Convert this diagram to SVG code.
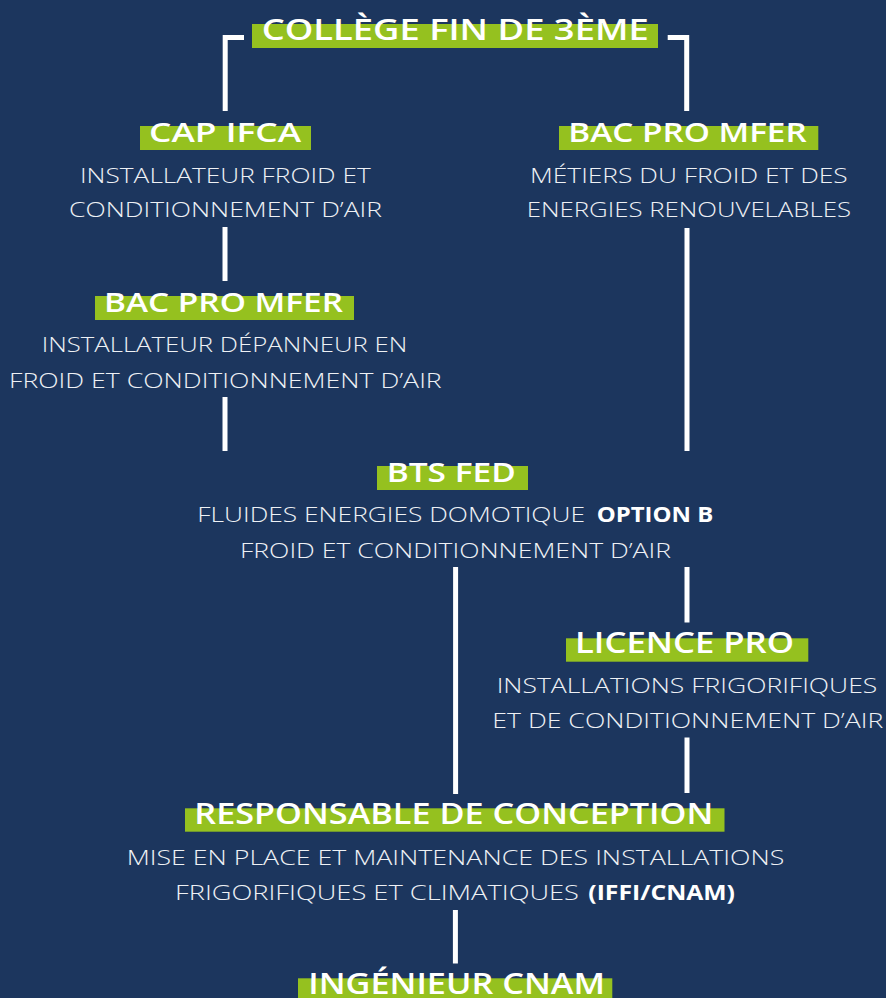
<svg xmlns="http://www.w3.org/2000/svg" width="886" height="998" viewBox="0 0 886 998">
<style>
.bg{fill:#1c365e}
.hl{fill:#95c11f}
.ti{font-family:"Open Sans","Liberation Sans",sans-serif;font-weight:600;fill:#ffffff;text-transform:uppercase}
.tx{font-family:"Open Sans","Liberation Sans",sans-serif;font-weight:300;fill:#eef1f5;font-size:21px;text-transform:uppercase}
.bd{font-family:"Open Sans","Liberation Sans",sans-serif;font-weight:700;fill:#ffffff;font-size:21px;text-transform:uppercase}
.ln{stroke:#ffffff;stroke-width:5;fill:none;stroke-linecap:butt;stroke-linejoin:miter}
</style>
<rect class="bg" x="0" y="0" width="886" height="998"/>

<g id="connectors">
<path class="ln" d="M244 37.5 H225.2 V111"/>
<path class="ln" d="M667.7 37.5 H686.7 V111"/>
<path class="ln" d="M225 227 V281"/>
<path class="ln" d="M225 397 V451"/>
<path class="ln" d="M687 228 V451"/>
<path class="ln" d="M455.6 567 V794"/>
<path class="ln" d="M687 567 V622.5"/>
<path class="ln" d="M687 737.5 V793"/>
<path class="ln" d="M455.4 910 V963.5"/>
</g>

<g id="college">
<rect class="hl" x="252" y="24" width="406" height="24"/>
<text class="ti" x="261.7" y="40" font-size="29" textLength="387" lengthAdjust="spacingAndGlyphs">Collège fin de 3ème</text>
</g>

<g id="cap-ifca">
<rect class="hl" x="140" y="126" width="171" height="24"/>
<text class="ti" x="149" y="141.7" font-size="26.5" textLength="152" lengthAdjust="spacingAndGlyphs">CAP IFCA</text>
<text class="tx" x="80" y="182.7" textLength="290.7" lengthAdjust="spacingAndGlyphs">Installateur froid et</text>
<text class="tx" x="69" y="217.3" textLength="313" lengthAdjust="spacingAndGlyphs">conditionnement d’air</text>
</g>

<g id="bac-pro-left">
<rect class="hl" x="95" y="296" width="259" height="24"/>
<text class="ti" x="104" y="312.3" font-size="27" textLength="239" lengthAdjust="spacingAndGlyphs">Bac PRO MFER</text>
<text class="tx" x="41.7" y="352.3" textLength="365.6" lengthAdjust="spacingAndGlyphs">Installateur dépanneur en</text>
<text class="tx" x="9" y="387.7" textLength="432.7" lengthAdjust="spacingAndGlyphs">froid et conditionnement d’air</text>
</g>

<g id="bac-pro-right">
<rect class="hl" x="559" y="126" width="259.3" height="24"/>
<text class="ti" x="568.3" y="142.3" font-size="27" textLength="238.4" lengthAdjust="spacingAndGlyphs">Bac PRO MFER</text>
<text class="tx" x="530" y="182.7" textLength="317.7" lengthAdjust="spacingAndGlyphs">Métiers du froid et des</text>
<text class="tx" x="526.7" y="217.3" textLength="324.3" lengthAdjust="spacingAndGlyphs">energies renouvelables</text>
</g>

<g id="bts-fed">
<rect class="hl" x="377" y="466" width="151" height="24"/>
<text class="ti" x="386.7" y="481.7" font-size="27.5" textLength="129" lengthAdjust="spacingAndGlyphs">BTS FED</text>
<text class="tx" x="197.3" y="522.3" textLength="387.7" lengthAdjust="spacingAndGlyphs">Fluides Energies Domotique</text>
<text class="bd" x="596.7" y="522.3" textLength="116.6" lengthAdjust="spacingAndGlyphs">option B</text>
<text class="tx" x="240" y="557.7" textLength="431" lengthAdjust="spacingAndGlyphs">froid et conditionnement d’air</text>
</g>

<g id="licence-pro">
<rect class="hl" x="566" y="638.3" width="242.3" height="23.4"/>
<text class="ti" x="575" y="653.3" font-size="29.5" textLength="219" lengthAdjust="spacingAndGlyphs">Licence PRO</text>
<text class="tx" x="496.7" y="693.3" textLength="380.6" lengthAdjust="spacingAndGlyphs">Installations frigorifiques</text>
<text class="tx" x="492.3" y="728.3" textLength="391" lengthAdjust="spacingAndGlyphs">et de conditionnement d’air</text>
</g>

<g id="responsable">
<rect class="hl" x="185" y="808.3" width="539.5" height="23.4"/>
<text class="ti" x="194.3" y="824.3" font-size="29" textLength="519" lengthAdjust="spacingAndGlyphs">Responsable de conception</text>
<text class="tx" x="126.7" y="865" textLength="657.6" lengthAdjust="spacingAndGlyphs">mise en place et maintenance des installations</text>
<text class="tx" x="175" y="900" textLength="404" lengthAdjust="spacingAndGlyphs">frigorifiques et climatiques</text>
<text class="bd" x="588.3" y="900" textLength="146.7" lengthAdjust="spacingAndGlyphs">(IFFI/CNAM)</text>
</g>

<g id="ingenieur">
<rect class="hl" x="298" y="978.3" width="314.3" height="24"/>
<text class="ti" x="308.3" y="994" font-size="29" textLength="296.7" lengthAdjust="spacingAndGlyphs">Ingénieur CNAM</text>
</g>
</svg>
